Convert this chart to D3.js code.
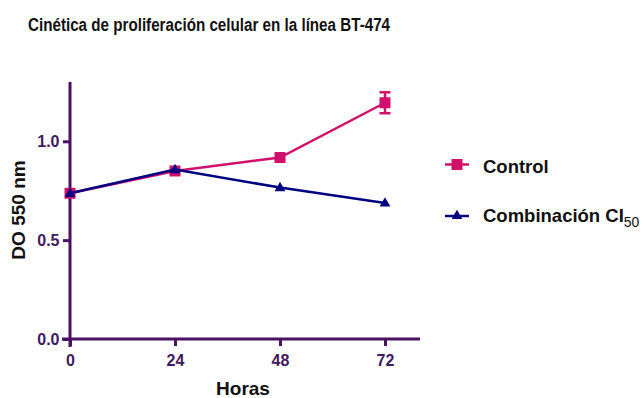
<!DOCTYPE html>
<html>
<head>
<meta charset="utf-8">
<script src="https://cdn.jsdelivr.net/npm/d3@7"></script>
<style>
  html, body { margin: 0; padding: 0; background: #fff; }
  svg { display: block; font-family: "Liberation Sans", Arial, sans-serif; }
</style>
</head>
<body>
<svg id="chart" width="643" height="398"></svg>
<script>
// Proliferation kinetics, BT-474 cell line (OD at 550 nm)
const hours = [0, 24, 48, 72];
const controlOD = [0.737, 0.850, 0.918, 1.195];
const controlErr = [0, 0, 0, 0.053];
const combinacionOD = [0.737, 0.857, 0.766, 0.688];
const xTicks = [0, 24, 48, 72];
const yTicks = [0.0, 0.5, 1.0];

const axisColor = "#4a1062";
const tickTextColor = "#3f1a60";
const controlColor = "#d1106b";
const combColor = "#000080";

const svg = d3.select("#chart");

const x = d3.scaleLinear().domain([0, 80]).range([70, 420]);
const y = d3.scaleLinear().domain([0, 1.3]).range([339, 82]);

// Title (narrow bold face)
svg.append("text")
  .attr("transform", "translate(28,30.5) scale(0.8,1)")
  .attr("font-size", 19).attr("font-weight", "bold").attr("fill", "#111")
  .text("Cinética de proliferación celular en la línea BT-474");

// Axes
const xAxis = svg.append("g").attr("transform", `translate(0,${y(0)})`)
  .call(d3.axisBottom(x).tickValues(xTicks).tickFormat(d3.format("d")).tickSize(7).tickPadding(9));
const yAxis = svg.append("g").attr("transform", `translate(${x(0)},0)`)
  .call(d3.axisLeft(y).tickValues(yTicks).tickFormat(d3.format(".1f")).tickSize(7).tickPadding(3.5));

[xAxis, yAxis].forEach(g => {
  g.select(".domain").attr("stroke", axisColor).attr("stroke-width", 3);
  g.selectAll(".tick line").attr("stroke", axisColor).attr("stroke-width", 3);
  g.selectAll(".tick text").attr("fill", tickTextColor)
    .attr("font-size", 16).attr("font-weight", "bold")
    .attr("font-family", "'Liberation Sans', Arial, sans-serif");
});
// extend the domains so the axes cross just past the origin
xAxis.select(".domain").attr("d", `M${x(0) - 8},0H${x(80)}`);
yAxis.select(".domain").attr("d", `M0,${y(0) + 8}V${y(1.3)}`);

// Axis titles
svg.append("text")
  .attr("x", 243).attr("y", 395)
  .attr("text-anchor", "middle")
  .attr("font-size", 19).attr("font-weight", "bold").attr("fill", "#111")
  .text("Horas");
svg.append("text")
  .attr("transform", "translate(25,210) rotate(-90)")
  .attr("text-anchor", "middle")
  .attr("font-size", 19).attr("font-weight", "bold").attr("fill", "#111")
  .text("DO 550 nm");

const line = d3.line().x(d => x(d[0])).y(d => y(d[1]));
const tri = d3.symbol().type(d3.symbolTriangle).size(50);

// Control series
const ctrl = hours.map((h, i) => [h, controlOD[i], controlErr[i]]);
svg.append("path").datum(ctrl).attr("d", line)
  .attr("fill", "none").attr("stroke", controlColor).attr("stroke-width", 2.5);
ctrl.filter(d => d[2] > 0).forEach(d => {
  const g = svg.append("g").attr("stroke", controlColor).attr("stroke-width", 2.5);
  g.append("line").attr("x1", x(d[0])).attr("x2", x(d[0])).attr("y1", y(d[1] - d[2])).attr("y2", y(d[1] + d[2]));
  g.append("line").attr("x1", x(d[0]) - 5.5).attr("x2", x(d[0]) + 5.5).attr("y1", y(d[1] + d[2])).attr("y2", y(d[1] + d[2]));
  g.append("line").attr("x1", x(d[0]) - 5.5).attr("x2", x(d[0]) + 5.5).attr("y1", y(d[1] - d[2])).attr("y2", y(d[1] - d[2]));
});
svg.selectAll(".ctrl-pt").data(ctrl).enter().append("rect")
  .attr("x", d => x(d[0]) - 5.5).attr("y", d => y(d[1]) - 5.5)
  .attr("width", 11).attr("height", 11).attr("fill", controlColor);

// Combination series
const comb = hours.map((h, i) => [h, combinacionOD[i]]);
svg.append("path").datum(comb).attr("d", line)
  .attr("fill", "none").attr("stroke", combColor).attr("stroke-width", 2.5);
svg.selectAll(".comb-pt").data(comb).enter().append("path")
  .attr("d", tri)
  .attr("transform", d => `translate(${x(d[0])},${y(d[1]) + 0.5})`)
  .attr("fill", combColor);

// Legend
const legend = [
  { label: "Control", color: controlColor, shape: "square", y: 164.5, base: 172.5 },
  { label: "Combinación CI", sub: "50", color: combColor, shape: "triangle", y: 216, base: 221.5 }
];
legend.forEach(l => {
  svg.append("line").attr("x1", 445).attr("x2", 469).attr("y1", l.y).attr("y2", l.y)
    .attr("stroke", l.color).attr("stroke-width", 2.5);
  if (l.shape === "square") {
    svg.append("rect").attr("x", 451.5).attr("y", l.y - 5.5).attr("width", 11).attr("height", 11).attr("fill", l.color);
  } else {
    svg.append("path").attr("d", tri).attr("transform", `translate(457,${l.y})`).attr("fill", l.color);
  }
  const t = svg.append("text").attr("x", 483).attr("y", l.base)
    .attr("font-size", 18.5).attr("font-weight", "bold").attr("fill", "#111")
    .text(l.label);
  if (l.sub) {
    t.append("tspan").attr("dy", 5).attr("font-size", 14).attr("font-weight", "normal").text(l.sub);
  }
});
</script>
</body>
</html>
